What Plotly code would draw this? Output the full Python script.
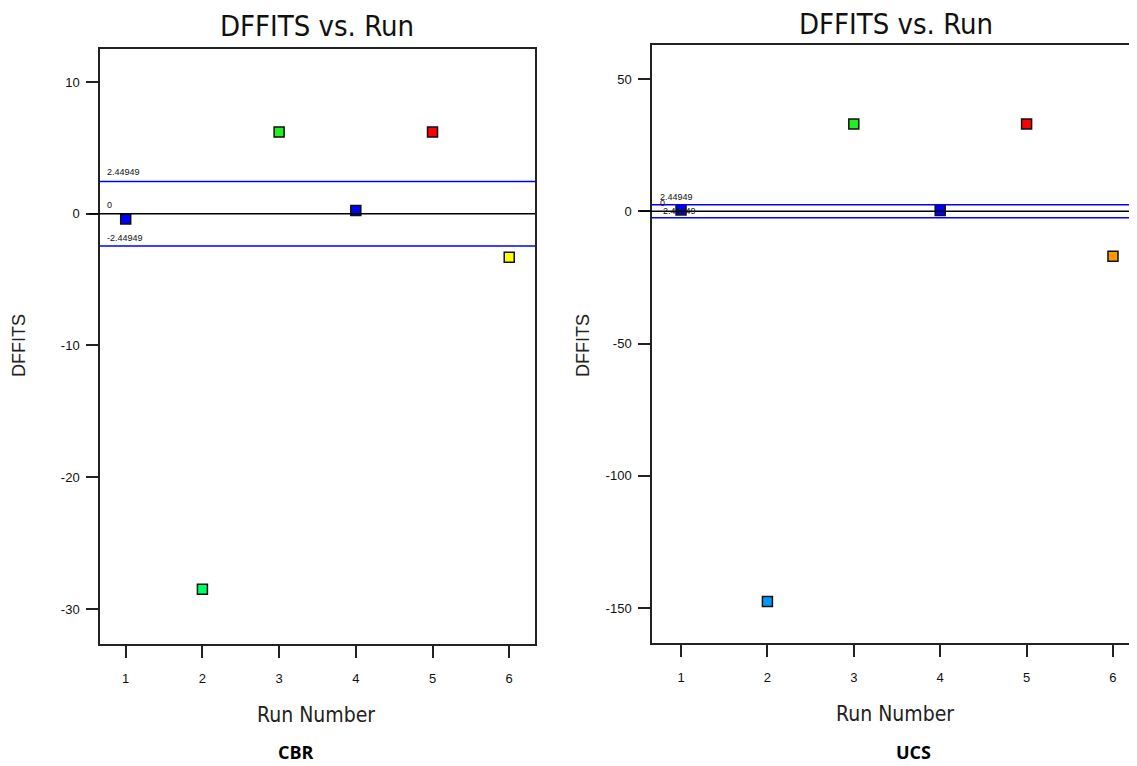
import plotly.graph_objects as go

runs = [1, 2, 3, 4, 5, 6]
cbr_dffits = [-0.4, -28.5, 6.2, 0.25, 6.2, -3.3]
ucs_dffits = [0.5, -147.5, 33.0, 0.3, 33.0, -17.0]
cbr_colors = ["#0000ff", "#00ff66", "#22ee22", "#0000ff", "#ff0000", "#ffff00"]
ucs_colors = ["#0000ff", "#0099ff", "#22ee22", "#0000ff", "#ff0000", "#ff9900"]
limit = 2.44949
limit_labels = ["2.44949", "0", "-2.44949"]
limit_values = [limit, 0, -limit]
cbr_yticks = [10, 0, -10, -20, -30]
ucs_yticks = [50, 0, -50, -100, -150]
panel_names = ["CBR", "UCS"]

# page body has an 8px margin, so the figure is drawn 8px in from the top-left
OFF = 8
W, H = 1137 - OFF, 766 - OFF
def px(x):
    return (x - OFF) / W
def py(y):
    return (H - (y - OFF)) / H

narrow = "Liberation Sans Narrow, DejaVu Sans Condensed, Liberation Sans, Arial"
plain = "Liberation Sans, Arial"

fig = go.Figure()
fig.add_trace(go.Scatter(x=runs, y=cbr_dffits, mode="markers", xaxis="x", yaxis="y",
                         marker=dict(symbol="square", size=10, color=cbr_colors,
                                     line=dict(color="#111111", width=1.5)),
                         showlegend=False))
fig.add_trace(go.Scatter(x=runs, y=ucs_dffits, mode="markers", xaxis="x2", yaxis="y2",
                         marker=dict(symbol="square", size=10, color=ucs_colors,
                                     line=dict(color="#111111", width=1.5)),
                         showlegend=False))

axis_common = dict(showgrid=False, zeroline=False, showline=True, linecolor="#222222",
                   linewidth=1.5, ticks="outside", ticklen=12, tickwidth=1.5,
                   tickcolor="#222222", tickfont=dict(family=plain, size=13, color="#111111"))

fig.update_layout(
    width=W, height=H, margin=dict(l=0, r=0, t=0, b=0),
    plot_bgcolor="white", paper_bgcolor="white",
    xaxis=dict(domain=[px(100), px(535)], range=[0.665, 6.336], tickvals=runs,
               mirror=True, anchor="y", ticklabelstandoff=10, **axis_common),
    yaxis=dict(domain=[py(644), py(49)], range=[-32.66, 12.505], tickvals=cbr_yticks,
               ticktext=[str(v) for v in cbr_yticks], ticklabelstandoff=4,
               mirror=True, anchor="x", **axis_common),
    xaxis2=dict(domain=[px(652), 1.0], range=[0.664, 6.278], tickvals=runs,
                mirror=True, anchor="y2", ticklabelstandoff=10, **axis_common),
    yaxis2=dict(domain=[py(643), py(45)], range=[-163.2, 62.85], tickvals=ucs_yticks,
                ticktext=[str(v) for v in ucs_yticks], ticklabelstandoff=4,
                anchor="x2", **axis_common),
)

for yr in ["y", "y2"]:
    xr = "x" if yr == "y" else "x2"
    for val in limit_values:
        col = "#000000" if val == 0 else "#0000ff"
        fig.add_shape(type="line", xref=f"{xr} domain", yref=yr, x0=-0.025 if val == 0 else 0, x1=1,
                      y0=val, y1=val, line=dict(color=col, width=1.5))

small = dict(size=9, color="#111111", family=plain)
# limit labels, left panel
fig.add_annotation(x=0.012, xref="x domain", y=limit_values[0], yref="y", text=limit_labels[0], showarrow=False,
                   xanchor="left", yanchor="bottom", yshift=2, font=small)
fig.add_annotation(x=0.012, xref="x domain", y=limit_values[1], yref="y", text=limit_labels[1], showarrow=False,
                   xanchor="left", yanchor="bottom", yshift=2, font=small)
fig.add_annotation(x=0.012, xref="x domain", y=limit_values[2], yref="y", text=limit_labels[2], showarrow=False,
                   xanchor="left", yanchor="bottom", yshift=1, font=small)
# limit labels, right panel (they crowd together as in the original)
fig.add_annotation(x=0.012, xref="x2 domain", y=limit_values[0], yref="y2", text=limit_labels[0], showarrow=False,
                   xanchor="left", yanchor="bottom", yshift=1, font=small)
fig.add_annotation(x=0.012, xref="x2 domain", y=limit_values[1], yref="y2", text=limit_labels[1], showarrow=False,
                   xanchor="left", yanchor="bottom", yshift=1, font=small)
fig.add_annotation(x=0.012, xref="x2 domain", y=limit_values[2], yref="y2", text=limit_labels[2], showarrow=False,
                   xanchor="left", yanchor="bottom", yshift=0, font=small)

# chart titles
fig.add_annotation(x=px(317), xref="paper", y=py(26), yref="paper", text="DFFITS vs. Run", showarrow=False,
                   xanchor="center", yanchor="middle", font=dict(family=narrow, size=29, color="#111111"))
fig.add_annotation(x=px(896), xref="paper", y=py(24), yref="paper", text="DFFITS vs. Run", showarrow=False,
                   xanchor="center", yanchor="middle", font=dict(family=narrow, size=29, color="#111111"))

# axis titles
fig.add_annotation(x=px(316), xref="paper", y=py(715), yref="paper", text="Run Number", showarrow=False,
                   xanchor="center", yanchor="middle", font=dict(family=narrow, size=21, color="#222222"))
fig.add_annotation(x=px(895), xref="paper", y=py(714), yref="paper", text="Run Number", showarrow=False,
                   xanchor="center", yanchor="middle", font=dict(family=narrow, size=21, color="#222222"))
fig.add_annotation(x=px(19), xref="paper", y=py(346), yref="paper", text="DFFITS", showarrow=False, textangle=-90,
                   xanchor="center", yanchor="middle", font=dict(family=plain, size=18, color="#222222"))
fig.add_annotation(x=px(583), xref="paper", y=py(346), yref="paper", text="DFFITS", showarrow=False, textangle=-90,
                   xanchor="center", yanchor="middle", font=dict(family=plain, size=18, color="#222222"))

# panel labels
fig.add_annotation(x=px(296), xref="paper", y=py(752), yref="paper", text="<b>" + panel_names[0] + "</b>", showarrow=False,
                   xanchor="center", yanchor="middle", font=dict(family="Open Sans, Noto Sans, Arial", size=18, color="#000000"))
fig.add_annotation(x=px(913), xref="paper", y=py(752), yref="paper", text="<b>" + panel_names[1] + "</b>", showarrow=False,
                   xanchor="center", yanchor="middle", font=dict(family="Open Sans, Noto Sans, Arial", size=18, color="#000000"))

fig.write_html("out.html")
